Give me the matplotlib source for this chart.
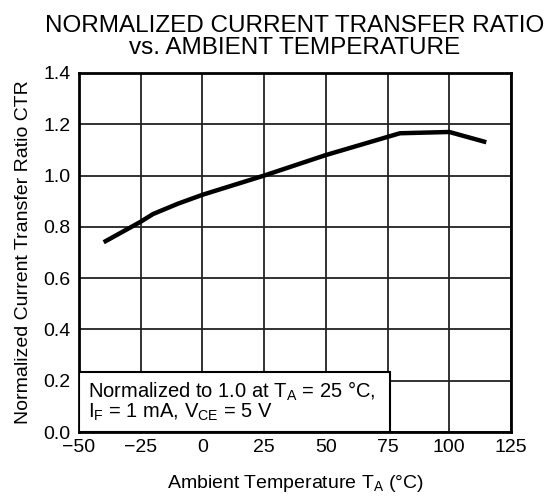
import matplotlib
matplotlib.use("Agg")
import matplotlib.pyplot as plt
from matplotlib.patches import Rectangle

plt.rcParams['font.family'] = ['Liberation Sans', 'DejaVu Sans']
plt.rcParams['mathtext.fontset'] = 'custom'
plt.rcParams['mathtext.rm'] = 'Liberation Sans'
plt.rcParams['mathtext.it'] = 'Liberation Sans'

# data
temp_c = [-40, -25, -20, -10, 0, 25, 50, 80, 100, 115]
ctr_norm = [0.74, 0.82, 0.85, 0.89, 0.925, 1.0, 1.08, 1.165, 1.17, 1.13]

x_ticks = [-50, -25, 0, 25, 50, 75, 100, 125]
y_ticks = [0.0, 0.2, 0.4, 0.6, 0.8, 1.0, 1.2, 1.4]

fig = plt.figure(figsize=(5.57, 5.01), dpi=100)
ax = fig.add_axes([0.1418, 0.1377, 0.7756, 0.7166])

ax.set_xlim(-50, 125)
ax.set_ylim(0, 1.4)
ax.set_xticks(x_ticks)
ax.set_yticks(y_ticks)
ax.set_xticklabels([f"{t}".replace("-", "\u2212") for t in x_ticks])
ax.set_yticklabels([f"{t:.1f}" for t in y_ticks])
ax.tick_params(labelsize=14, length=0)
ax.tick_params(axis='y', pad=6)
ax.tick_params(axis='x', pad=5)
ax.grid(True, color='#222222', linewidth=1.3)
ax.set_axisbelow(True)
for s in ax.spines.values():
    s.set_linewidth(2)

ax.plot(temp_c, ctr_norm, color='black', linewidth=3.2, solid_capstyle='butt', zorder=3)

# note box in the lower left corner
ax.add_patch(Rectangle((-50, 0), 126, 0.235, facecolor='white', edgecolor='black',
                       linewidth=1.5, zorder=4))
ax.text(-46.5, 0.205, r"Normalized to 1.0 at T$_\mathregular{A}$ = 25 °C," + "\n"
        + r"I$_\mathregular{F}$ = 1 mA, V$_\mathregular{CE}$ = 5 V",
        fontsize=14.5, va='top', ha='left', zorder=5, linespacing=0.95)

ax.set_xlabel(r"Ambient Temperature T$_\mathregular{A}$ (°C)", fontsize=14, labelpad=12)
ax.set_ylabel("Normalized Current Transfer Ratio CTR", fontsize=14, labelpad=8)
ax.set_title("NORMALIZED CURRENT TRANSFER RATIO\nvs. AMBIENT TEMPERATURE",
             fontsize=17.5, linespacing=0.95, pad=14)

fig.savefig("out.png", dpi=100)
